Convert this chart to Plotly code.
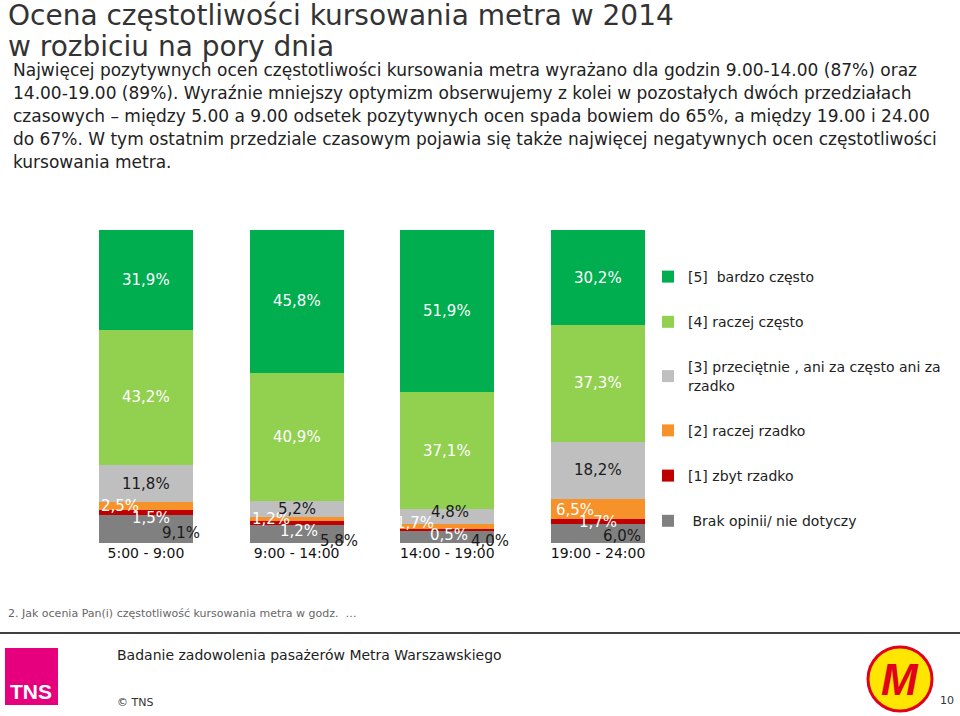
import plotly.graph_objects as go

categories = ["5:00 - 9:00", "9:00 - 14:00", "14:00 - 19:00", "19:00 - 24:00"]
series_names = [
    "\u00a0Brak opinii/ nie dotyczy",
    "[1] zbyt rzadko",
    "[2] raczej rzadko",
    "[3] przeciętnie , ani za często ani za<br>rzadko",
    "[4] raczej często",
    "[5]\u00a0 bardzo często",
]
brak = [9.1, 5.8, 4.0, 6.0]
zbyt_rzadko = [1.5, 1.2, 0.5, 1.7]
raczej_rzadko = [2.5, 1.2, 1.7, 6.5]
przecietnie = [11.8, 5.2, 4.8, 18.2]
raczej_czesto = [43.2, 40.9, 37.1, 37.3]
bardzo_czesto = [31.9, 45.8, 51.9, 30.2]
series_values = [brak, zbyt_rzadko, raczej_rzadko, przecietnie, raczej_czesto, bardzo_czesto]

colors = ["#808080", "#C00000", "#F7922A", "#BFBFBF", "#92D050", "#00AD4F"]
label_colors = ["#1a1a1a", "white", "white", "#1a1a1a", "white", "white"]
# label offsets (xshift, yshift) in px per series per category — styling only
label_offsets = [
    [(35, -4), (42, -7), (43, -4), (24, -2)],
    [(5, -6), (2, -8), (2, -5), (0, 0)],
    [(-26, 0), (-26, 0), (-32, 3), (-23, -1)],
    [(0, 0), (0, 0), (3, 4), (0, 0)],
    [(0, 0), (0, 0), (0, 0), (0, 0)],
    [(0, 0), (0, 0), (0, 0), (0, 0)],
]

W, H = 960, 716
def px(x):
    return x / W
def py(y):
    return 1 - y / H

FONT = "DejaVu Sans, Verdana, sans-serif"

fig = go.Figure()
n = len(series_names)
for i, (name, vals) in enumerate(zip(series_names, series_values)):
    fig.add_trace(go.Bar(
        x=categories, y=vals, name=name, marker_color=colors[i],
        marker_line_width=0, legendgroup=str(i), legendrank=n - i, hoverinfo="skip",
    ))

annotations = []
cum = [0.0] * len(categories)
for i, vals in enumerate(series_values):
    for j, v in enumerate(vals):
        mid = cum[j] + v / 2
        xs, ys = label_offsets[i][j]
        annotations.append(dict(
            x=categories[j], y=mid, xref="x", yref="y",
            text=f"{v:.1f}".replace(".", ",") + "%",
            showarrow=False, xshift=xs, yshift=ys,
            font=dict(family=FONT, size=15, color=label_colors[i]),
        ))
        cum[j] += v

def txt(x, y, text, size, color="#222", family=FONT, xanchor="left", **kw):
    annotations.append(dict(
        x=px(x), y=py(y), xref="paper", yref="paper", text=text,
        showarrow=False, xanchor=xanchor, yanchor="middle", align="left",
        font=dict(family=family, size=size, color=color), **kw))

txt(6, 16, "Ocena częstotliwości kursowania metra w 2014", 28, "#333")
txt(6, 46, "w rozbiciu na pory dnia", 28, "#333")
para = [
    "Najwięcej pozytywnych ocen częstotliwości kursowania metra wyrażano dla godzin 9.00-14.00 (87%) oraz",
    "14.00-19.00 (89%). Wyraźnie mniejszy optymizm obserwujemy z kolei w pozostałych dwóch przedziałach",
    "czasowych – między 5.00 a 9.00 odsetek pozytywnych ocen spada bowiem do 65%, a między 19.00 i 24.00",
    "do 67%. W tym ostatnim przedziale czasowym pojawia się także najwięcej negatywnych ocen częstotliwości",
    "kursowania metra.",
]
for k, line in enumerate(para):
    txt(11, 70 + 23 * k, line, 17, "#222")

txt(6, 613, "2. Jak ocenia Pan(i) częstotliwość kursowania metra w godz.  …", 11, "#666")
txt(115, 655, "Badanie zadowolenia pasażerów Metra Warszawskiego", 14, "#222")
txt(115, 702, "© TNS", 11, "#333")
txt(956, 700, "10", 11, "#333", xanchor="right")
txt(31, 691, "<b>TNS</b>", 21, "white", family="Liberation Sans Narrow, Arial Narrow, sans-serif", xanchor="center")
txt(900, 679, "<b><i>M</i></b>", 44, "#E2001A", family="Liberation Sans, Arial, sans-serif", xanchor="center")

shapes = [
    dict(type="line", xref="paper", yref="paper", x0=0, x1=1, y0=py(633), y1=py(633),
         line=dict(color="#404040", width=2)),
    dict(type="rect", xref="paper", yref="paper", x0=px(5), x1=px(58), y0=py(705), y1=py(648),
         fillcolor="#E6007E", line_width=0, layer="below"),
    dict(type="circle", xref="paper", yref="paper", x0=px(868), x1=px(932), y0=py(711), y1=py(647),
         fillcolor="#FFE600", line=dict(color="#E2001A", width=3), layer="below"),
]

fig.update_layout(
    width=W, height=H, margin=dict(l=0, r=0, t=0, b=0),
    paper_bgcolor="white", plot_bgcolor="white",
    barmode="stack", bargap=0.376,
    xaxis=dict(domain=[px(70.6), px(673.4)], showline=False, showgrid=False, zeroline=False,
               ticks="", tickfont=dict(family=FONT, size=14, color="#111"), fixedrange=True),
    yaxis=dict(domain=[py(543), py(230)], range=[0, 100], visible=False, fixedrange=True),
    legend=dict(x=px(648), y=py(261), xanchor="left", yanchor="top",
                traceorder="grouped", tracegroupgap=24,
                font=dict(family=FONT, size=14, color="#222"), bgcolor="rgba(0,0,0,0)",
                itemclick=False, itemdoubleclick=False),
    annotations=annotations, shapes=shapes, showlegend=True,
)

fig.write_html("out.html")
